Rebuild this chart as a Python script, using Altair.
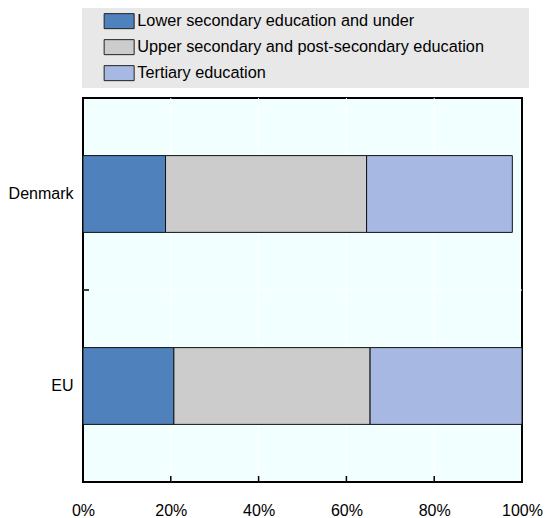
import altair as alt
import pandas as pd

countries = ["Denmark", "EU"]
levels = ["Lower secondary education and under",
          "Upper secondary and post-secondary education",
          "Tertiary education"]
denmark = [18.8, 45.8, 33.2]
eu = [20.7, 44.7, 34.6]
colors = ["#4F81BD", "#CCCCCC", "#A7B9E3"]
x_labels = [0, 20, 40, 60, 80, 100]
inner_ticks = [20, 40, 60, 80]
boundary_cat = ["EU"]

rows = []
for c, vals in zip(countries, [denmark, eu]):
    for i, (lvl, v) in enumerate(zip(levels, vals)):
        rows.append({"country": c, "level": lvl, "value": v, "order": i})
df = pd.DataFrame(rows)
tick_df = pd.DataFrame({"v": inner_ticks})
bnd_df = pd.DataFrame({"country": boundary_cat})

FONT = "Liberation Sans"
W, H = 439, 384
yscale = alt.Scale(domain=countries, paddingInner=0, paddingOuter=0)
xscale = alt.Scale(domain=[0, 100], nice=False)

yaxis = alt.Axis(title=None, ticks=False, domain=False, grid=False,
                 labelFontSize=16, labelFont=FONT, labelColor="#000",
                 labelPadding=10)
xaxis = alt.Axis(title=None, values=x_labels, ticks=False, domain=False,
                 grid=False, labelExpr="datum.value + '%'",
                 labelFontSize=16, labelFont=FONT, labelColor="#000",
                 labelPadding=20, labelFlush=False)

vgrid = alt.Chart(tick_df).mark_rule(color="white", strokeWidth=1).encode(
    x=alt.X("v:Q", scale=xscale, axis=xaxis),
    y=alt.value(0), y2=alt.value(H))
hgrid = alt.Chart(bnd_df).mark_rule(color="white", strokeWidth=1).encode(
    y=alt.Y("country:N", scale=yscale, sort=countries, bandPosition=0, axis=yaxis),
    x=alt.value(0), x2=alt.value(W))

bars = alt.Chart(df).mark_bar(
    height=alt.RelativeBandSize(0.4), stroke="#111", strokeWidth=1
).encode(
    y=alt.Y("country:N", scale=yscale, sort=countries, axis=yaxis),
    x=alt.X("value:Q", stack="zero", scale=xscale, axis=xaxis),
    color=alt.Color("level:N", scale=alt.Scale(domain=levels, range=colors),
                    legend=alt.Legend(
                        title=" ", titleOrient="right", titlePadding=40,
                        titleFontSize=16, orient="none", legendX=-1, legendY=-90,
                        direction="vertical", fillColor="#E8E8E8", padding=5,
                        symbolType="M-2,-1H2V1H-2Z", symbolSize=225,
                        symbolStrokeColor="#222", symbolStrokeWidth=1,
                        symbolOpacity=1, symbolOffset=24, labelOffset=10,
                        labelFontSize=16.3, labelFont=FONT, labelColor="#000",
                        labelLimit=600, rowPadding=6)),
    order=alt.Order("order:Q"),
)

xticks = alt.Chart(tick_df).mark_rule(color="#000", strokeWidth=1.5).encode(
    x=alt.X("v:Q", scale=xscale, axis=xaxis),
    y=alt.value(H), y2=alt.value(H - 6))
yticks = alt.Chart(bnd_df).mark_rule(color="#000", strokeWidth=1.5).encode(
    y=alt.Y("country:N", scale=yscale, sort=countries, bandPosition=0, axis=yaxis),
    x=alt.value(0), x2=alt.value(6))

chart = alt.layer(vgrid, hgrid, bars, xticks, yticks).properties(
    width=W, height=H,
    padding={"left": 83, "top": 98, "right": 24, "bottom": 36},
    autosize=alt.AutoSizeParams(type="none"),
).configure(font=FONT).configure_view(
    fill="#F2FFFF", stroke="#000", strokeWidth=2
)

chart.save("out.html", embed_options={"renderer": "svg", "actions": False})
